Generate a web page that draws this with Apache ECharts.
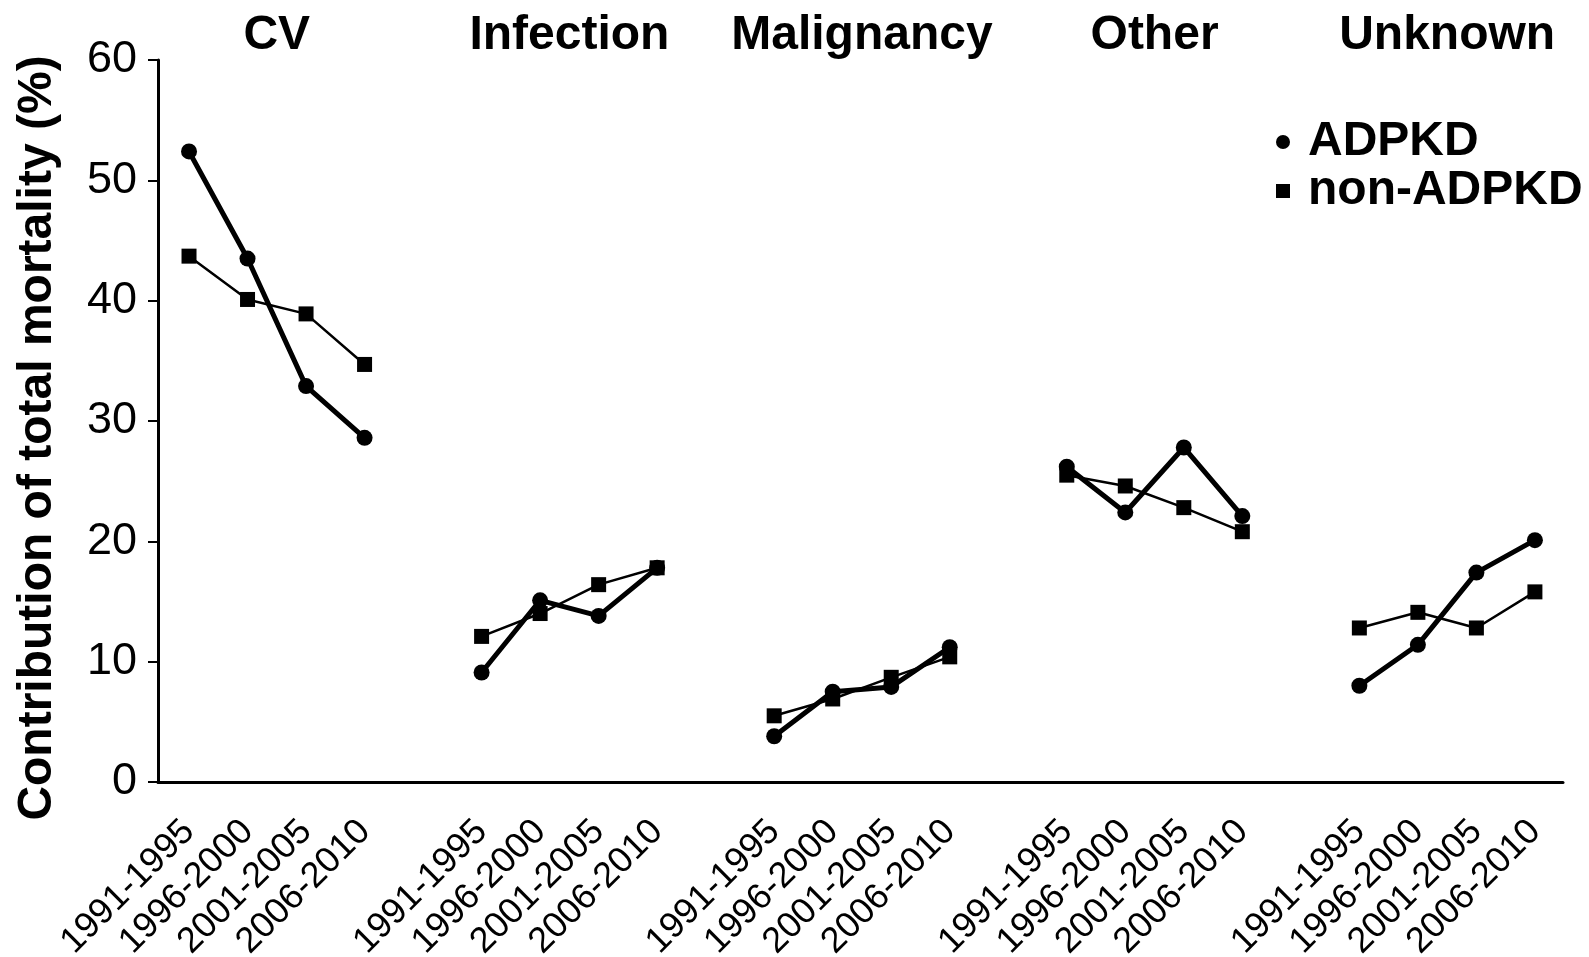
<!DOCTYPE html>
<html>
<head>
<meta charset="utf-8">
<title>Contribution of total mortality by cause</title>
<script src="https://cdn.jsdelivr.net/npm/echarts@6/dist/echarts.min.js"></script>
<style>
  html, body { margin: 0; padding: 0; background: #fff; }
  #chart { width: 1589px; height: 957px; }
</style>
</head>
<body>
<div id="chart"></div>
<script>
// Causes of death (panel headings) and the four calendar periods in each panel
const causes = ['CV', 'Infection', 'Malignancy', 'Other', 'Unknown'];
const periods = ['1991-1995', '1996-2000', '2001-2005', '2006-2010'];
const yTicks = [0, 10, 20, 30, 40, 50, 60];

// Contribution of total mortality (%), four periods per cause
const adpkdCV = [52.4, 43.5, 32.9, 28.6];
const adpkdInfection = [9.1, 15.1, 13.8, 17.8];
const adpkdMalignancy = [3.8, 7.5, 7.9, 11.2];
const adpkdOther = [26.2, 22.4, 27.8, 22.1];
const adpkdUnknown = [8.0, 11.4, 17.4, 20.1];

const nonCV = [43.7, 40.1, 38.9, 34.7];
const nonInfection = [12.1, 14.0, 16.4, 17.8];
const nonMalignancy = [5.5, 6.9, 8.7, 10.4];
const nonOther = [25.5, 24.6, 22.8, 20.8];
const nonUnknown = [12.8, 14.1, 12.8, 15.8];

const adpkdGroups = [adpkdCV, adpkdInfection, adpkdMalignancy, adpkdOther, adpkdUnknown];
const nonGroups = [nonCV, nonInfection, nonMalignancy, nonOther, nonUnknown];

// Each cause occupies four slots followed by one empty slot on the shared x scale
const SLOTS = periods.length + 1;

function seriesData(groups) {
  const out = [];
  groups.forEach((vals, g) => {
    vals.forEach((v, p) => out.push([g * SLOTS + p, v]));
    if (g < groups.length - 1) out.push([g * SLOTS + periods.length, '-']);
  });
  return out;
}

const periodSlots = [];
causes.forEach((c, g) => periods.forEach((p, i) => periodSlots.push(g * SLOTS + i)));
const causeCentres = causes.map((c, g) => g * SLOTS + (periods.length - 1) / 2);

const FONT = '"Liberation Sans", Arial, Helvetica, sans-serif';
const chart = echarts.init(document.getElementById('chart'), null, { renderer: 'canvas' });

chart.setOption({
  backgroundColor: '#ffffff',
  animation: false,
  grid: { left: 158, right: 26, top: 60, bottom: 175, containLabel: false, outerBoundsMode: 'none' },
  legend: {
    orient: 'vertical',
    left: 1271,
    top: 113,
    itemWidth: 14,
    itemHeight: 14,
    itemGap: 1,
    textStyle: {
      color: '#000', fontFamily: FONT, fontWeight: 'bold', fontSize: 48, lineHeight: 44,
      padding: [0, 0, 0, 13]
    },
    data: [
      { name: 'ADPKD', icon: 'circle' },
      { name: 'non-ADPKD', icon: 'rect' }
    ]
  },
  xAxis: [
    {
      type: 'value',
      position: 'bottom',
      min: -0.53,
      max: 23.48,
      splitLine: { show: false },
      axisTick: { show: false },
      axisLine: { show: true, onZero: false, lineStyle: { color: '#000', width: 3 } },
      axisLabel: {
        customValues: periodSlots,
        rotate: 45,
        margin: 44,
        color: '#000',
        fontFamily: FONT,
        fontSize: 36,
        formatter: (v) => periods[Math.round(v) % SLOTS]
      }
    },
    {
      type: 'value',
      position: 'top',
      min: -0.53,
      max: 23.48,
      splitLine: { show: false },
      axisTick: { show: false },
      axisLine: { show: false, onZero: false },
      axisLabel: {
        customValues: causeCentres,
        margin: 0,
        color: '#000',
        fontFamily: FONT,
        fontWeight: 'bold',
        fontSize: 48,
        formatter: (v) => causes[Math.round((v - 1.5) / SLOTS)]
      }
    }
  ],
  yAxis: {
    type: 'value',
    min: yTicks[0],
    max: yTicks[yTicks.length - 1],
    interval: 10,
    splitLine: { show: false },
    axisLine: { show: true, onZero: false, lineStyle: { color: '#000', width: 3 } },
    axisTick: { show: true, inside: false, length: 10, lineStyle: { color: '#000', width: 2 } },
    axisLabel: { color: '#000', fontFamily: FONT, fontSize: 45, margin: 21 },
    name: 'Contribution of total mortality (%)',
    nameLocation: 'middle',
    nameGap: 96,
    nameTextStyle: {
      color: '#000', fontFamily: FONT, fontWeight: 'bold', fontSize: 48,
      padding: [0, 34, 0, 0]
    }
  },
  series: [
    {
      name: 'non-ADPKD',
      type: 'line',
      xAxisIndex: 0,
      data: seriesData(nonGroups),
      connectNulls: false,
      symbol: 'rect',
      symbolSize: 15,
      lineStyle: { color: '#000', width: 2.5 },
      itemStyle: { color: '#000' },
      z: 2
    },
    {
      name: 'ADPKD',
      type: 'line',
      xAxisIndex: 0,
      data: seriesData(adpkdGroups),
      connectNulls: false,
      symbol: 'circle',
      symbolSize: 16,
      lineStyle: { color: '#000', width: 5 },
      itemStyle: { color: '#000' },
      z: 3
    }
  ]
});
</script>
</body>
</html>
